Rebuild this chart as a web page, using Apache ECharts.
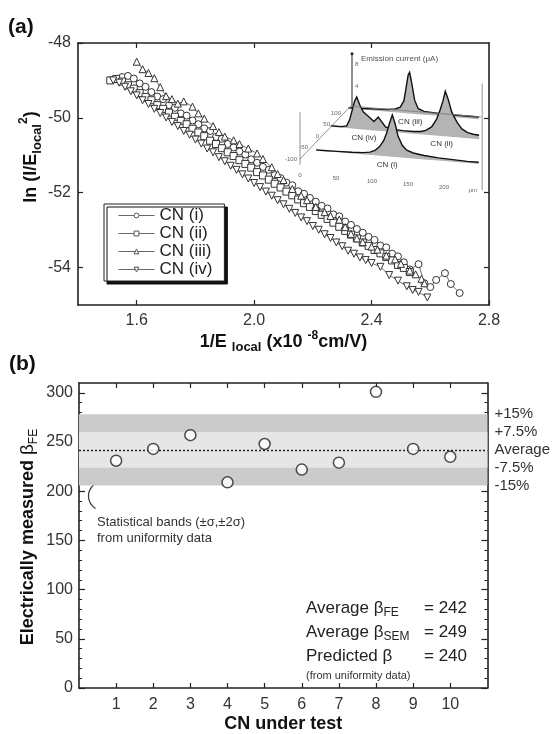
<!DOCTYPE html>
<html>
<head>
<meta charset="utf-8">
<script src="https://cdn.jsdelivr.net/npm/echarts@6/dist/echarts.min.js"></script>
<style>
html,body{margin:0;padding:0;background:#fff;}
#chart{width:553px;height:734px;}
</style>
</head>
<body>
<div id="chart"></div>
<script>
var FONT = "'Liberation Sans', Arial, Helvetica, sans-serif";

// ---- panel (a): FN plots, x = 1/E_local (x1e-8 cm/V), y = ln(I/E_local^2)
var cnNames = ['CN (i)', 'CN (ii)', 'CN (iii)', 'CN (iv)'];
var cn1 = [[1.53,-48.97],[1.55,-48.91],[1.57,-48.88],[1.59,-48.95],[1.61,-49.08],[1.63,-49.17],[1.65,-49.31],[1.67,-49.43],[1.69,-49.50],[1.71,-49.66],[1.73,-49.73],[1.75,-49.88],[1.77,-49.94],[1.79,-50.07],[1.81,-50.17],[1.83,-50.28],[1.85,-50.35],[1.87,-50.51],[1.89,-50.56],[1.91,-50.70],[1.93,-50.79],[1.95,-50.90],[1.97,-50.98],[1.99,-51.11],[2.01,-51.20],[2.03,-51.31],[2.05,-51.39],[2.07,-51.53],[2.09,-51.61],[2.11,-51.73],[2.13,-51.80],[2.15,-51.96],[2.17,-52.03],[2.19,-52.14],[2.21,-52.24],[2.23,-52.35],[2.25,-52.42],[2.27,-52.58],[2.29,-52.63],[2.31,-52.77],[2.33,-52.86],[2.35,-52.97],[2.37,-53.07],[2.39,-53.18],[2.41,-53.26],[2.43,-53.41],[2.45,-53.46],[2.47,-53.63],[2.49,-53.70],[2.51,-53.86],[2.53,-54.05],[2.56,-53.91],[2.58,-54.42],[2.60,-54.52],[2.62,-54.33],[2.65,-54.15],[2.67,-54.44],[2.70,-54.68]];
var cn2 = [[1.51,-49.00],[1.53,-48.96],[1.55,-49.03],[1.57,-49.13],[1.59,-49.22],[1.61,-49.34],[1.63,-49.44],[1.65,-49.53],[1.67,-49.66],[1.69,-49.76],[1.71,-49.86],[1.73,-49.97],[1.75,-50.08],[1.77,-50.17],[1.79,-50.29],[1.81,-50.39],[1.83,-50.49],[1.85,-50.61],[1.87,-50.70],[1.89,-50.81],[1.91,-50.92],[1.93,-51.02],[1.95,-51.13],[1.97,-51.23],[1.99,-51.33],[2.01,-51.45],[2.03,-51.54],[2.05,-51.65],[2.07,-51.76],[2.09,-51.86],[2.11,-51.97],[2.13,-52.07],[2.15,-52.18],[2.17,-52.28],[2.19,-52.38],[2.21,-52.49],[2.23,-52.59],[2.25,-52.70],[2.27,-52.80],[2.29,-52.91],[2.31,-53.02],[2.33,-53.12],[2.35,-53.22],[2.37,-53.33],[2.39,-53.42],[2.41,-53.53],[2.43,-53.62],[2.45,-53.72],[2.47,-53.81],[2.49,-53.93],[2.51,-54.01],[2.53,-54.12]];
var cn3 = [[1.60,-48.50],[1.62,-48.70],[1.64,-48.80],[1.66,-48.94],[1.68,-49.18],[1.70,-49.42],[1.72,-49.50],[1.74,-49.62],[1.76,-49.56],[1.79,-49.70],[1.81,-49.88],[1.83,-50.02],[1.86,-50.22],[1.88,-50.38],[1.90,-50.50],[1.93,-50.60],[1.95,-50.70],[1.98,-50.82],[2.01,-50.95],[2.03,-51.10],[2.06,-51.32],[2.08,-51.50],[2.10,-51.66],[2.13,-51.90],[2.16,-52.08],[2.18,-52.20],[2.21,-52.38],[2.24,-52.52],[2.26,-52.62],[2.29,-52.72],[2.31,-52.92],[2.33,-53.10],[2.35,-53.22],[2.37,-53.32],[2.40,-53.44],[2.42,-53.52],[2.45,-53.68],[2.48,-53.78],[2.50,-53.90],[2.53,-54.08],[2.55,-54.18],[2.57,-54.30],[2.58,-54.42]];
var cn4 = [[1.52,-49.00],[1.54,-49.06],[1.56,-49.17],[1.58,-49.29],[1.60,-49.40],[1.62,-49.53],[1.64,-49.63],[1.66,-49.76],[1.68,-49.87],[1.70,-49.99],[1.72,-50.11],[1.74,-50.22],[1.76,-50.35],[1.78,-50.45],[1.80,-50.58],[1.82,-50.69],[1.84,-50.82],[1.86,-50.92],[1.88,-51.05],[1.90,-51.16],[1.92,-51.28],[1.94,-51.39],[1.96,-51.51],[1.98,-51.62],[2.00,-51.74],[2.02,-51.85],[2.04,-51.97],[2.06,-52.08],[2.08,-52.20],[2.10,-52.31],[2.12,-52.43],[2.14,-52.54],[2.16,-52.66],[2.18,-52.76],[2.20,-52.89],[2.22,-52.99],[2.24,-53.11],[2.26,-53.21],[2.28,-53.33],[2.30,-53.43],[2.32,-53.55],[2.34,-53.63],[2.36,-53.73],[2.38,-53.80],[2.40,-53.88],[2.43,-53.98],[2.46,-54.20],[2.49,-54.35],[2.52,-54.50],[2.54,-54.60],[2.56,-54.65],[2.59,-54.80]];
var fnXTicks = [1.6, 2.0, 2.4, 2.8];
var fnYTicks = [-54, -52, -50, -48];

// ---- inset: emission current line scans (position um, current uA), one scan per row
var insetRows = [
  { depth: 120, pos: [0,20,40,55,65,72,77,80,83,85,88,92,97,105,120,140,160,181],
    cur: [0.1,0.2,0.3,0.4,0.6,1.0,2.2,4.5,7.0,7.5,5.5,2.5,1.0,0.6,0.5,0.4,0.4,0.4] },
  { depth: 40, pos: [0,15,22,26,30,33,36,40,45,52,60,66,70,76,85,100,115,125,132,140,147,152,156,159,163,168,175,182,190,198,206],
    cur: [0.2,0.2,0.4,1.5,3.5,5.0,5.8,4.5,3.2,2.5,1.6,2.5,1.8,0.8,0.5,0.4,0.4,0.5,0.8,1.5,3.0,4.8,6.5,8.2,6.8,4.5,2.8,1.6,1.0,0.8,0.7] },
  { depth: -60, pos: [10,20,40,60,75,85,92,98,104,108,112,116,120,124,130,136,145,160,180,200,220,236],
    cur: [0.1,0.1,0.15,0.2,0.3,0.5,0.9,1.6,2.8,4.2,6.0,7.6,6.0,3.8,2.2,1.4,1.0,0.7,0.5,0.4,0.3,0.3] }
];
var insetLabels = [['CN (iii)', 0, 86], ['CN (iv)', 1, 46], ['CN (ii)', 1, 154], ['CN (i)', 2, 109]];
var insetCurTicks = [4, 8];
var insetDepthTicks = [-100, -50, 0, 50, 100];
var insetPosTicks = [0, 50, 100, 150, 200];

// ---- panel (b): field enhancement factor per CN
var cnIndex = [1, 2, 3, 4, 5, 6, 7, 8, 9, 10];
var betaFE = [231, 243, 257, 209, 248, 222, 229, 301, 243, 235];
var betaAvg = 242;
var bandPct = [15, 7.5, 0, -7.5, -15];
var bandNames = ['+15%', '+7.5%', 'Average', '-7.5%', '-15%'];
var summaryNames = ['FE', 'SEM', ''];
var summaryValues = [242, 249, 240];
var betaYTicks = [0, 50, 100, 150, 200, 250, 300];

var bandLevels = bandPct.map(function (p) { return betaAvg * (1 + p / 100); });

// oblique projection of inset (position, depth, current) into the inset grid
function proj(p, d, c) {
  var X = 300 + 0.72 * p + 0.22 * (d + 100);
  var Y = 159 + 0.06 * p - 0.23 * (d + 100) - 5.5 * c;
  return [X - 290, 200 - Y];
}

var chart = echarts.init(document.getElementById('chart'), null, { renderer: 'canvas' });

var axisCol = '#222';

function frameAxis(extra) {
  var base = {
    axisLine: { show: true, onZero: false, lineStyle: { color: axisCol, width: 1.6 } },
    axisTick: { show: true, inside: true, length: 5, lineStyle: { color: axisCol, width: 1.2 } },
    axisLabel: { show: false },
    splitLine: { show: false }
  };
  return Object.assign(base, extra);
}

var lineSeries = [cn1, cn2, cn3, cn4].map(function (d, i) {
  var sym = ['circle', 'rect', 'triangle', 'path://M0,0 L10,0 L5,9 Z'][i];
  return {
    name: cnNames[i], type: 'line', xAxisIndex: 0, yAxisIndex: 0,
    data: d, symbol: sym, symbolSize: 7, showAllSymbol: true,
    itemStyle: { color: '#fff', borderColor: '#333', borderWidth: 1 },
    lineStyle: { color: '#333', width: 0.7 },
    emphasis: { disabled: true }, animation: false, z: 3
  };
});

function insetRowItem(params, api) {
  var row = insetRows[params.dataIndex];
  var top = [], base = [];
  for (var i = 0; i < row.pos.length; i++) {
    top.push(api.coord(proj(row.pos[i], row.depth, row.cur[i])));
    base.push(api.coord(proj(row.pos[i], row.depth, 0)));
  }
  var poly = top.concat(base.slice().reverse());
  return {
    type: 'group',
    children: [
      { type: 'polygon', shape: { points: poly }, style: { fill: '#b4b4b4' } },
      { type: 'polyline', shape: { points: top }, style: { stroke: '#111', lineWidth: 1.4, fill: null } }
    ]
  };
}

function insetDecor(params, api) {
  var ch = [];
  var tiny = { fill: '#666', fontSize: 6, fontFamily: FONT };
  var a0 = api.coord(proj(5, 120, 0)), a1 = api.coord(proj(5, 120, 10));
  ch.push({ type: 'line', shape: { x1: a0[0], y1: a0[1], x2: a1[0], y2: a1[1] }, style: { stroke: '#222', lineWidth: 1 } });
  ch.push({ type: 'circle', shape: { cx: a1[0], cy: a1[1], r: 1.5 }, style: { fill: '#222' } });
  insetCurTicks.forEach(function (t) {
    var q = api.coord(proj(5, 120, t));
    ch.push({ type: 'text', x: q[0] + 3, y: q[1], style: Object.assign({ text: String(t), verticalAlign: 'middle' }, tiny) });
  });
  ch.push({ type: 'text', x: a1[0] + 9, y: a1[1] + 5, style: { text: 'Emission current (\u03bcA)', fill: '#555', fontSize: 8, fontFamily: FONT, verticalAlign: 'middle' } });
  // floor edges
  var f0 = api.coord(proj(0, -100, 0)), f1 = api.coord(proj(0, 130, 0)), f2 = api.coord(proj(181, 130, 0));
  ch.push({ type: 'polyline', shape: { points: [f0, f1, f2] }, style: { stroke: '#777', lineWidth: 0.8, fill: null } });
  var v0 = api.coord(proj(0, -100, -1)), v1 = api.coord(proj(0, -100, 8.5));
  ch.push({ type: 'line', shape: { x1: v0[0], y1: v0[1], x2: v1[0], y2: v1[1] }, style: { stroke: '#777', lineWidth: 0.8 } });
  var r0 = api.coord(proj(253, -100, -2.9)), r1 = api.coord(proj(253, -100, 16.5));
  ch.push({ type: 'line', shape: { x1: r0[0], y1: r0[1], x2: r1[0], y2: r1[1] }, style: { stroke: '#777', lineWidth: 0.8 } });
  insetDepthTicks.forEach(function (t) {
    var q = api.coord(proj(0, t, 0));
    ch.push({ type: 'text', x: q[0] - 3, y: q[1], style: Object.assign({ text: String(t), align: 'right', verticalAlign: 'middle' }, tiny) });
  });
  insetPosTicks.forEach(function (t) {
    var q = api.coord(proj(t, -100, -3));
    ch.push({ type: 'text', x: q[0], y: q[1], style: Object.assign({ text: String(t), align: 'center', verticalAlign: 'middle' }, tiny) });
  });
  var um = api.coord(proj(240, -100, -3));
  ch.push({ type: 'text', x: um[0], y: um[1], style: Object.assign({ text: '\u03bcm', align: 'center', verticalAlign: 'middle' }, tiny) });
  insetLabels.forEach(function (l) {
    var row = insetRows[l[1]];
    var q = api.coord(proj(l[2], row.depth, 0));
    ch.push({ type: 'text', x: q[0], y: q[1] + 8, style: { text: l[0], fill: '#333', fontSize: 8, fontFamily: FONT, align: 'center', verticalAlign: 'middle' } });
  });
  return { type: 'group', children: ch };
}

var option = {
  animation: false,
  textStyle: { fontFamily: FONT },
  grid: [
    { left: 78, top: 43, width: 411, height: 262 },
    { left: 79, top: 383, width: 409, height: 308 },
    { left: 290, top: 45, width: 200, height: 155 }
  ],
  legend: {
    data: cnNames, orient: 'vertical', left: 104, top: 204,
    itemWidth: 36, itemHeight: 6, itemGap: 1,
    padding: [3, 12, 3, 14],
    backgroundColor: '#fff', borderColor: '#222', borderWidth: 1,
    shadowColor: '#111', shadowBlur: 0, shadowOffsetX: 3, shadowOffsetY: 3,
    lineStyle: { width: 1, color: '#666' },
    itemStyle: { borderWidth: 1, borderColor: '#555' },
    textStyle: { fontSize: 17, color: '#222', fontFamily: FONT },
    selectedMode: false
  },
  xAxis: [
    frameAxis({ gridIndex: 0, type: 'value', min: 1.4, max: 2.8, interval: 0.2,
      axisTick: { show: true, inside: true, length: 5, customValues: fnXTicks, lineStyle: { color: axisCol, width: 1.2 } },
      axisLabel: { show: true, customValues: fnXTicks, margin: 8, formatter: function (v) { return v.toFixed(1); }, color: '#333', fontSize: 16, fontFamily: FONT },
      name: '{b|1/E }{s|local}{b| (x10 }{p|-8}{b|cm/V)}', nameLocation: 'middle', nameGap: 24,
      nameTextStyle: { rich: {
        b: { fontSize: 18, fontWeight: 'bold', color: '#111', fontFamily: FONT, lineHeight: 24, verticalAlign: 'middle' },
        s: { fontSize: 13, fontWeight: 'bold', color: '#111', fontFamily: FONT, lineHeight: 12, verticalAlign: 'bottom' },
        p: { fontSize: 12, fontWeight: 'bold', color: '#111', fontFamily: FONT, lineHeight: 12, verticalAlign: 'top' } } } }),
    frameAxis({ gridIndex: 0, type: 'value', position: 'top', min: 1.4, max: 2.8, interval: 0.2,
      axisTick: { show: true, inside: true, length: 5, customValues: [1.6, 2.0, 2.4], lineStyle: { color: axisCol, width: 1.2 } } }),
    frameAxis({ gridIndex: 1, type: 'value', min: 0, max: 11, interval: 1,
      axisTick: { show: true, inside: true, length: 5, customValues: cnIndex, lineStyle: { color: axisCol, width: 1.2 } },
      axisLabel: { show: true, customValues: cnIndex, margin: 9, color: '#333', fontSize: 16, fontFamily: FONT },
      name: 'CN under test', nameLocation: 'middle', nameGap: 27,
      nameTextStyle: { fontSize: 18, fontWeight: 'bold', color: '#111', fontFamily: FONT } }),
    frameAxis({ gridIndex: 1, type: 'value', position: 'top', min: 0, max: 11, interval: 1,
      axisTick: { show: true, inside: true, length: 5, customValues: cnIndex, lineStyle: { color: axisCol, width: 1.2 } } }),
    { gridIndex: 2, type: 'value', min: 0, max: 200, show: false }
  ],
  yAxis: [
    frameAxis({ gridIndex: 0, type: 'value', min: -55, max: -48, interval: 1,
      axisTick: { show: true, inside: true, length: 5, customValues: fnYTicks, lineStyle: { color: axisCol, width: 1.2 } },
      axisLabel: { show: true, customValues: fnYTicks, margin: 7, color: '#333', fontSize: 16, fontFamily: FONT } }),
    frameAxis({ gridIndex: 0, type: 'value', position: 'right', min: -55, max: -48, interval: 1,
      axisTick: { show: true, inside: true, length: 5, customValues: [-54, -52, -50], lineStyle: { color: axisCol, width: 1.2 } } }),
    frameAxis({ gridIndex: 1, type: 'value', min: 0, max: 310, interval: 50,
      axisTick: { show: true, inside: true, length: 6, customValues: betaYTicks, lineStyle: { color: axisCol, width: 1.2 } },
      minorTick: { show: true, splitNumber: 5, length: 3, lineStyle: { color: axisCol, width: 1 } },
      axisLabel: { show: true, customValues: betaYTicks, margin: 6, color: '#333', fontSize: 16, fontFamily: FONT } }),
    frameAxis({ gridIndex: 1, type: 'value', position: 'right', min: 0, max: 310, interval: 50,
      axisTick: { show: true, inside: true, length: 6, customValues: betaYTicks, lineStyle: { color: axisCol, width: 1.2 } },
      minorTick: { show: true, splitNumber: 5, length: 3, lineStyle: { color: axisCol, width: 1 } },
      axisLabel: { show: true, inside: false, customValues: bandLevels, margin: 7, color: '#333', fontSize: 15, fontFamily: FONT,
        formatter: function (v) {
          for (var i = 0; i < bandLevels.length; i++) if (Math.abs(v - bandLevels[i]) < 0.01) return bandNames[i];
          return '';
        } } }),
    { gridIndex: 2, type: 'value', min: 0, max: 155, show: false }
  ],
  graphic: [
    { type: 'text', left: 8, top: 17, style: { text: '(a)', fontSize: 21, fontWeight: 'bold', fill: '#111', fontFamily: FONT } },
    { type: 'text', left: 9, top: 354, style: { text: '(b)', fontSize: 21, fontWeight: 'bold', fill: '#111', fontFamily: FONT } },
    { type: 'text', x: 31, y: 157, rotation: Math.PI / 2,
      style: { text: '{b|ln (I/E}{s|local}{p|2}{b|)}', align: 'center', verticalAlign: 'middle',
        rich: {
          b: { fontSize: 18, fontWeight: 'bold', fill: '#111', fontFamily: FONT, lineHeight: 26, verticalAlign: 'middle' },
          s: { fontSize: 13, fontWeight: 'bold', fill: '#111', fontFamily: FONT, lineHeight: 12, verticalAlign: 'bottom' },
          p: { fontSize: 12, fontWeight: 'bold', fill: '#111', fontFamily: FONT, lineHeight: 12, verticalAlign: 'top' } } } },
    { type: 'text', x: 28, y: 537, rotation: Math.PI / 2,
      style: { text: '{b|Electrically measured }{g|\u03b2}{s|FE}', align: 'center', verticalAlign: 'middle',
        rich: {
          b: { fontSize: 18, fontWeight: 'bold', fill: '#111', fontFamily: FONT, lineHeight: 24, verticalAlign: 'middle' },
          g: { fontSize: 19, fill: '#111', fontFamily: FONT, lineHeight: 24, verticalAlign: 'middle' },
          s: { fontSize: 12, fill: '#111', fontFamily: FONT, lineHeight: 12, verticalAlign: 'bottom' } } } },
    { type: 'arc', shape: { cx: 103, cy: 496, r: 14.5, startAngle: Math.PI * 0.67, endAngle: Math.PI * 1.33 },
      style: { stroke: '#333', lineWidth: 1.2, fill: null } },
    { type: 'text', left: 97, top: 514,
      style: { text: 'Statistical bands (\u00b1\u03c3,\u00b12\u03c3)\nfrom uniformity data', fontSize: 13, lineHeight: 16, fill: '#333', fontFamily: FONT } }
  ].concat(summaryValues.map(function (v, i) {
    var head = i < 2 ? '{a|Average \u03b2}{s|' + summaryNames[i] + '}' : '{a|Predicted \u03b2}';
    return { type: 'group', children: [
      { type: 'text', x: 306, y: 608 + i * 24, style: { text: head, verticalAlign: 'middle',
        rich: { a: { fontSize: 17, fill: '#222', fontFamily: FONT, lineHeight: 22, verticalAlign: 'middle' },
                s: { fontSize: 12, fill: '#222', fontFamily: FONT, lineHeight: 12, verticalAlign: 'bottom' } } } },
      { type: 'text', x: 424, y: 608 + i * 24, style: { text: '= ' + v, fontSize: 17, fill: '#222', fontFamily: FONT, verticalAlign: 'middle' } }
    ] };
  })).concat([
    { type: 'text', x: 306, y: 676, style: { text: '(from uniformity data)', fontSize: 11, fill: '#333', fontFamily: FONT, verticalAlign: 'middle' } }
  ]),
  series: lineSeries.concat([
    { type: 'custom', xAxisIndex: 4, yAxisIndex: 4, data: [[0, 0], [1, 0], [2, 0]], renderItem: insetRowItem, silent: true, z: 1 },
    { type: 'custom', xAxisIndex: 4, yAxisIndex: 4, data: [[0, 0]], renderItem: insetDecor, silent: true, z: 1 },
    { type: 'line', xAxisIndex: 2, yAxisIndex: 2, data: [], silent: true, z: 1,
      markArea: { silent: true, data: [
        [{ yAxis: bandLevels[4], itemStyle: { color: '#cbcbcb' } }, { yAxis: bandLevels[0] }],
        [{ yAxis: bandLevels[3], itemStyle: { color: '#e6e6e6' } }, { yAxis: bandLevels[1] }]
      ] },
      markLine: { silent: true, symbol: ['none', 'none'], label: { show: false },
        lineStyle: { color: '#222', width: 1.4, type: [2, 2] }, data: [{ yAxis: betaAvg }] } },
    { type: 'scatter', xAxisIndex: 2, yAxisIndex: 2, z: 5,
      data: cnIndex.map(function (c, i) { return [c, betaFE[i]]; }),
      symbol: 'circle', symbolSize: 11,
      itemStyle: { color: '#fff', borderColor: '#222', borderWidth: 1.5 } }
  ])
};

chart.setOption(option);
</script>
</body>
</html>
